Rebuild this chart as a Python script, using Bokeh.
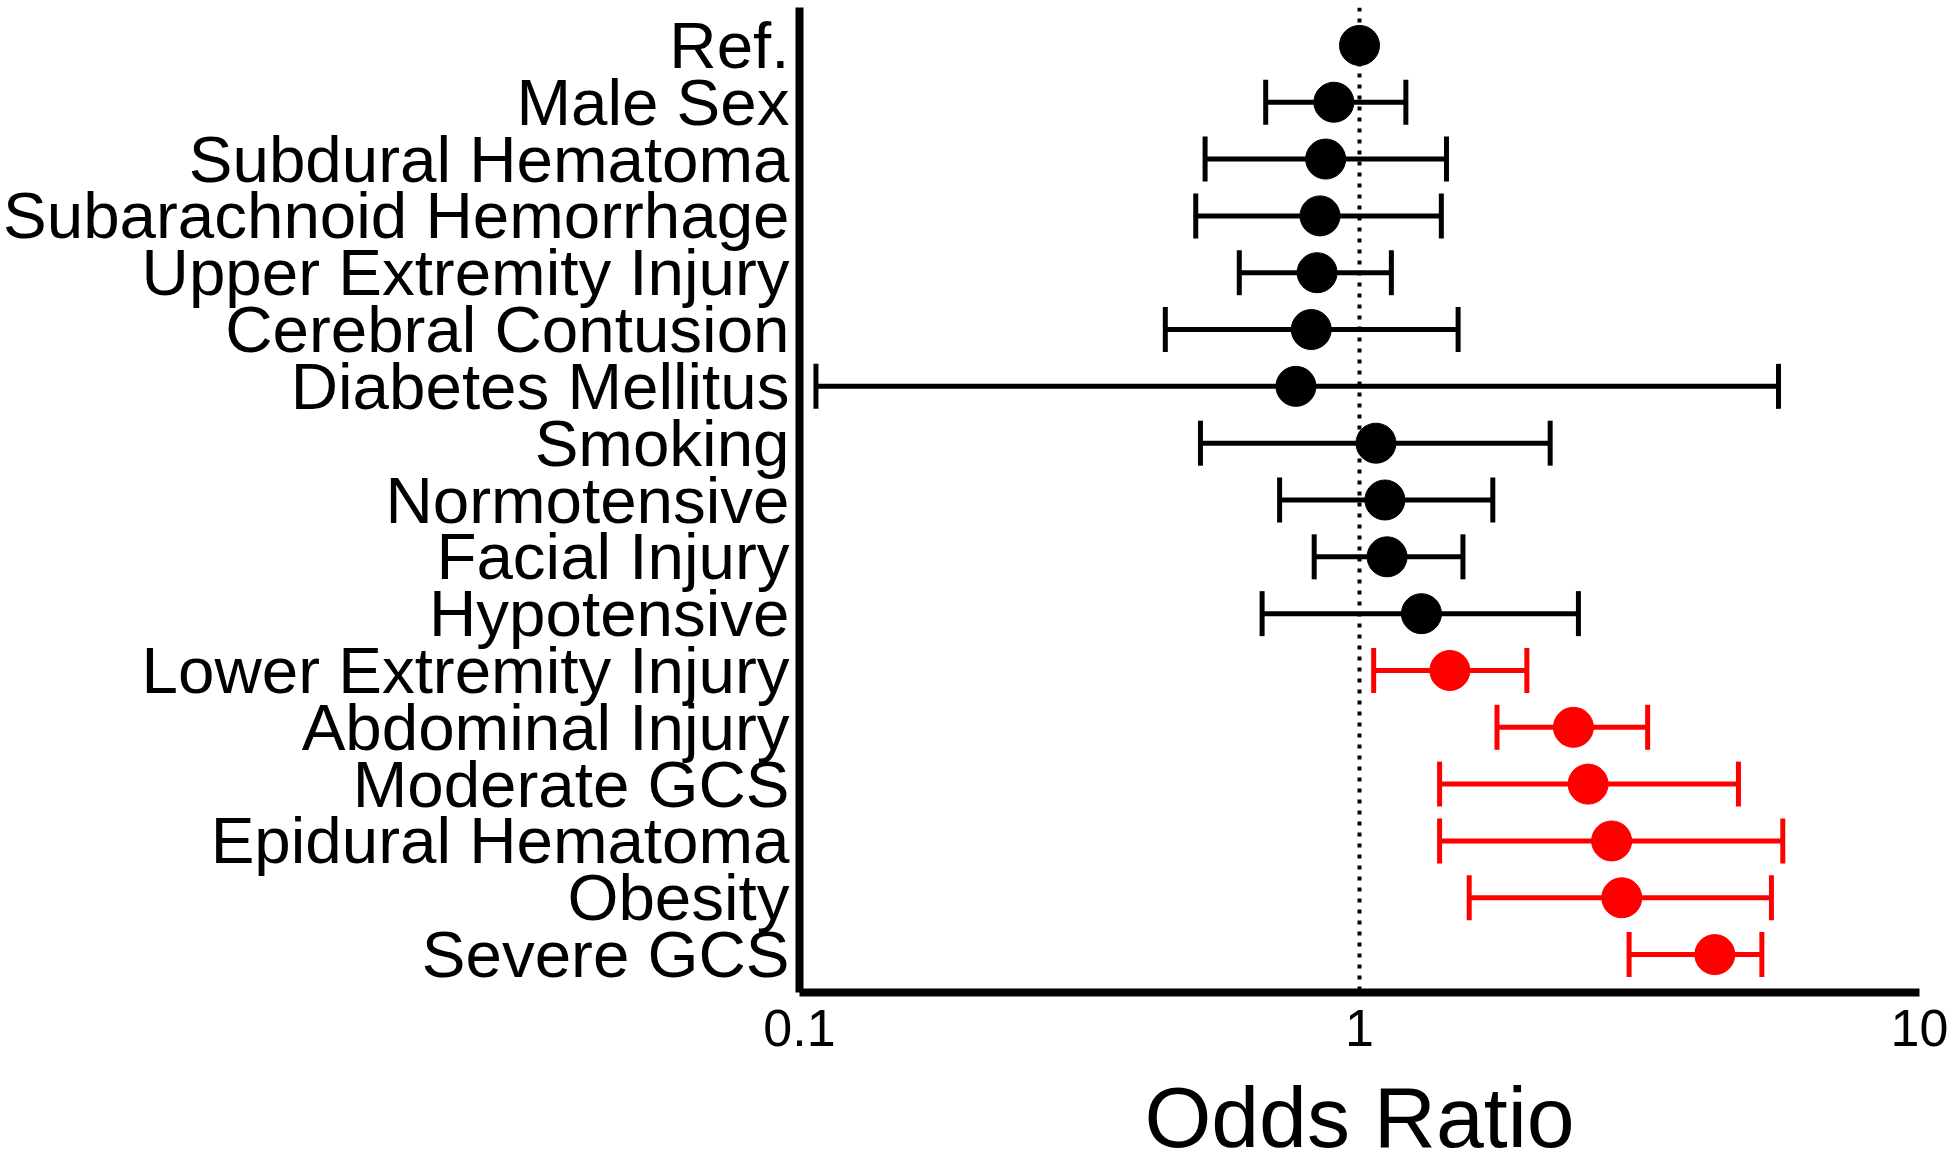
import numpy as np
from bokeh.plotting import figure
from bokeh.models import FactorRange, Span, FixedTicker, ColumnDataSource
from bokeh.embed import file_html
from bokeh.resources import INLINE

# ---- data ----
categories = ["Ref.", "Male Sex", "Subdural Hematoma", "Subarachnoid Hemorrhage",
              "Upper Extremity Injury", "Cerebral Contusion", "Diabetes Mellitus",
              "Smoking", "Normotensive", "Facial Injury", "Hypotensive",
              "Lower Extremity Injury", "Abdominal Injury", "Moderate GCS",
              "Epidural Hematoma", "Obesity", "Severe GCS"]
odds_ratio = [1.00, 0.90, 0.87, 0.85, 0.84, 0.82, 0.77, 1.07, 1.11, 1.12, 1.29,
              1.45, 2.41, 2.56, 2.82, 2.94, 4.31]
ci_lower = [None, 0.68, 0.53, 0.51, 0.61, 0.45, 0.107, 0.52, 0.72, 0.83, 0.67,
            1.06, 1.76, 1.39, 1.39, 1.57, 3.03]
ci_upper = [None, 1.21, 1.43, 1.40, 1.14, 1.50, 5.60, 2.19, 1.73, 1.53, 2.46,
            1.99, 3.27, 4.75, 5.70, 5.44, 5.23]
x_ticks = [0.1, 1, 10]
x_tick_labels = ["0.1", "1", "10"]
x_title = "Odds Ratio"
reference_value = 1

FONT = "Liberation Sans"
BLACK = "#000000"
RED = "#ff0000"

row_colors = [RED if (lo is not None and lo > reference_value) else BLACK for lo in ci_lower]

p = figure(width=1950, height=1169, x_axis_type="log", x_range=(0.1, 10),
           y_range=FactorRange(factors=categories[::-1], range_padding=0.167,
                               range_padding_units="absolute"),
           output_backend="svg", toolbar_location=None, title=None,
           min_border_left=797, min_border_right=31, min_border_top=7,
           min_border_bottom=177)

p.background_fill_color = "white"
p.border_fill_color = "white"
p.outline_line_color = None
p.xgrid.visible = False
p.ygrid.visible = False

p.add_layout(Span(location=reference_value, dimension="height", line_color=BLACK,
                  line_width=4, line_dash="4 7", level="underlay"))

rows = [i for i in range(len(categories)) if ci_lower[i] is not None]
ci_src = ColumnDataSource(dict(
    y=[categories[i] for i in rows],
    lo=[ci_lower[i] for i in rows],
    hi=[ci_upper[i] for i in rows],
    color=[row_colors[i] for i in rows],
))
p.segment(x0="lo", y0="y", x1="hi", y1="y", line_color="color", line_width=5,
          source=ci_src)
p.scatter(x="lo", y="y", marker="dash", angle=np.pi / 2, size=45,
          line_color="color", line_width=5, source=ci_src)
p.scatter(x="hi", y="y", marker="dash", angle=np.pi / 2, size=45,
          line_color="color", line_width=5, source=ci_src)

pt_src = ColumnDataSource(dict(y=categories, x=odds_ratio, color=row_colors))
p.scatter(x="x", y="y", marker="circle", size=40, fill_color="color",
          line_color="color", line_width=1, source=pt_src)

xa = p.xaxis[0]
xa.ticker = FixedTicker(ticks=x_ticks)
xa.major_label_overrides = dict(zip(x_ticks, x_tick_labels))
xa.axis_line_width = 8
xa.axis_line_color = BLACK
xa.major_tick_line_color = None
xa.minor_tick_line_color = None
xa.major_tick_out = 0
xa.major_tick_in = 0
xa.minor_tick_out = 0
xa.minor_tick_in = 0
xa.major_label_text_font = FONT
xa.major_label_text_font_size = "52px"
xa.major_label_text_color = BLACK
xa.major_label_standoff = 17
xa.axis_label = x_title
xa.axis_label_text_font = FONT
xa.axis_label_text_font_size = "86px"
xa.axis_label_text_font_style = "normal"
xa.axis_label_text_color = BLACK
xa.axis_label_standoff = 20

ya = p.yaxis[0]
ya.axis_line_width = 8
ya.axis_line_color = BLACK
ya.major_tick_line_color = None
ya.minor_tick_line_color = None
ya.major_tick_out = 0
ya.major_tick_in = 0
ya.minor_tick_out = 0
ya.minor_tick_in = 0
ya.major_label_text_font = FONT
ya.major_label_text_font_size = "65.5px"
ya.major_label_text_color = BLACK
ya.major_label_standoff = 10

open("out.html", "w").write(file_html(p, INLINE))
